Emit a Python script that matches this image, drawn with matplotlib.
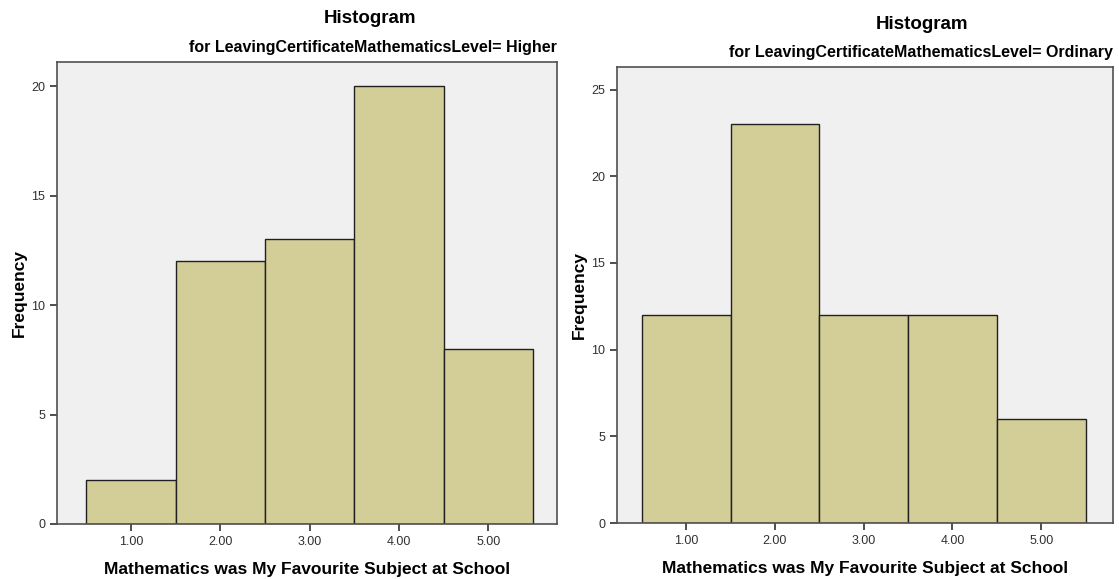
import matplotlib.pyplot as plt

plt.rcParams['font.family'] = ['Liberation Sans', 'DejaVu Sans']

# Histogram counts per score (1-5)
scores = [1, 2, 3, 4, 5]
higher_counts = [2, 12, 13, 20, 8]
ordinary_counts = [12, 23, 12, 12, 6]
tick_labels = ['1.00', '2.00', '3.00', '4.00', '5.00']

bar_color = '#d3ce97'
bg_color = '#f0f0f0'

fig = plt.figure(figsize=(11.19, 5.79), dpi=100)


def draw_panel(rect, counts, level, ylim, yticks, xlim, title_x):
    ax = fig.add_axes(rect)
    ax.set_facecolor(bg_color)
    ax.bar(scores, counts, width=1.0, color=bar_color, edgecolor='#202020', linewidth=1.0)
    ax.set_xlim(*xlim)
    ax.set_ylim(*ylim)
    ax.set_yticks(yticks)
    ax.set_xticks(scores)
    ax.set_xticklabels(tick_labels)
    ax.tick_params(axis='both', labelsize=9, length=5, width=1.2, color='#303030',
                   labelcolor='#303030', direction='out')
    for s in ax.spines.values():
        s.set_color('#505050')
        s.set_linewidth(1.2)
    ax.set_ylabel('Frequency', fontsize=12.5, fontweight='bold', labelpad=3)
    ax.set_xlabel('Mathematics was My Favourite Subject at School', fontsize=12.5,
                  fontweight='bold', labelpad=10)
    # subtitle right aligned to the axes edge
    ax.text(1.0, 1.015, 'for LeavingCertificateMathematicsLevel= ' + level,
            transform=ax.transAxes, ha='right', va='bottom', fontsize=11.5, fontweight='bold')
    ax.text(title_x, 1.075, 'Histogram', transform=ax.transAxes, ha='center', va='bottom',
            fontsize=13.5, fontweight='bold')
    return ax


draw_panel([0.0509, 0.095, 0.4469, 0.798], higher_counts, 'Higher',
           (0, 21.1), [0, 5, 10, 15, 20], (0.17, 5.77), 0.626)
draw_panel([0.5514, 0.0967, 0.4433, 0.7876], ordinary_counts, 'Ordinary',
           (0, 26.3), [0, 5, 10, 15, 20, 25], (0.22, 5.81), 0.615)

fig.savefig('out.png', dpi=100, facecolor='white')
